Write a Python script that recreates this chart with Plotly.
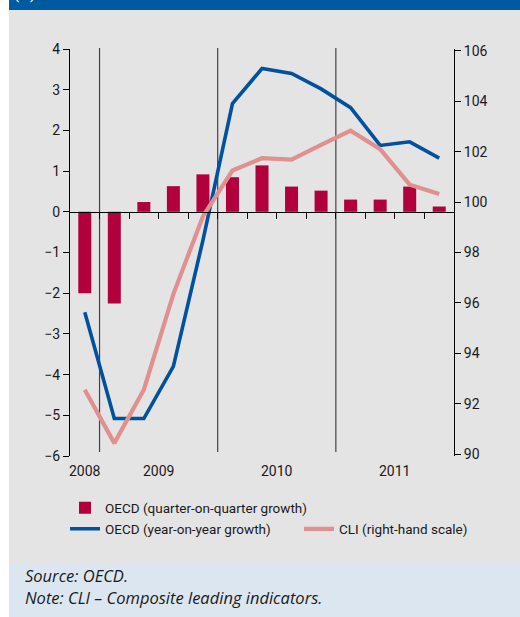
import plotly.graph_objects as go

# quarterly data, 2008Q4 - 2011Q4
quarters = ["2008Q4", "2009Q1", "2009Q2", "2009Q3", "2009Q4",
            "2010Q1", "2010Q2", "2010Q3", "2010Q4",
            "2011Q1", "2011Q2", "2011Q3", "2011Q4"]
qoq_growth = [-2.0, -2.25, 0.24, 0.63, 0.92, 0.85, 1.14, 0.62, 0.52, 0.30, 0.30, 0.62, 0.13]
yoy_growth = [-2.47, -5.08, -5.08, -3.80, -0.70, 2.66, 3.52, 3.40, 3.02, 2.56, 1.63, 1.72, 1.32]
cli = [92.56, 90.44, 92.56, 96.35, 99.43, 101.25, 101.74, 101.68, 102.27, 102.83, 102.10, 100.69, 100.32]

left_ticks = [-6, -5, -4, -3, -2, -1, 0, 1, 2, 3, 4]
right_ticks = [90, 92, 94, 96, 98, 100, 102, 104, 106]

W, H = 520, 617
ML, MR, MT, MB = 70, 66, 49, 161
PW, PH = W - ML - MR, H - MT - MB

def px(x):   # pixel -> paper x
    return (x - ML) / PW

def py(y):   # pixel -> paper y
    return (H - MB - y) / PH

FONT = "Roboto"
NOTE_FONT = "Open Sans"
BAR_C = "#b1003b"
BLUE_C = "#00519e"
PINK_C = "#e0908f"

xi = list(range(len(quarters)))
years = [q[:4] for q in quarters]
year_names = sorted(set(years))
year_centers = [sum(i for i in xi if years[i] == y) / years.count(y) for y in year_names]
year_bounds = [i - 0.5 for i in xi[1:] if years[i] != years[i - 1]]
quarter_bounds = [i + 0.5 for i in xi[:-1]]

fig = go.Figure()
fig.add_trace(go.Bar(x=xi, y=qoq_growth, name="OECD (quarter-on-quarter growth)",
                     marker=dict(color=BAR_C, line=dict(width=0)), width=0.44,
                     hovertext=quarters, legend="legend"))
fig.add_trace(go.Scatter(x=xi, y=yoy_growth, mode="lines", name="OECD (year-on-year growth)",
                         line=dict(color=BLUE_C, width=3.6), hovertext=quarters, legend="legend2"))
fig.add_trace(go.Scatter(x=xi, y=cli, mode="lines", name="CLI (right-hand scale)", yaxis="y2",
                         line=dict(color=PINK_C, width=4.2), hovertext=quarters, legend="legend3"))

shapes = [
    dict(type="rect", xref="paper", yref="paper", x0=px(9), x1=px(W + 5), y0=py(-5), y1=py(10),
         fillcolor="#005aa0", line=dict(width=0), layer="below"),
    dict(type="rect", xref="paper", yref="paper", x0=px(9), x1=px(W + 5), y0=py(563), y1=py(10),
         fillcolor="#e4e4e4", line=dict(width=0), layer="below"),
    dict(type="rect", xref="paper", yref="paper", x0=px(9), x1=px(W + 5), y0=py(H + 5), y1=py(563),
         fillcolor="#dce6f0", line=dict(width=0), layer="below"),
]
for b in year_bounds:
    shapes.append(dict(type="line", xref="x", yref="paper", x0=b, x1=b, y0=py(452), y1=py(48),
                       line=dict(color="#444444", width=1.2), layer="below"))

annotations = [
    dict(text="(%)", xref="paper", yref="paper", x=px(12), y=py(5), xanchor="left", yanchor="bottom",
         showarrow=False, font=dict(family=FONT, size=15, color="white")),
    dict(text="<i>Source: OECD.</i>", xref="paper", yref="paper", x=px(23), y=py(575),
         xanchor="left", yanchor="middle", showarrow=False,
         font=dict(family=NOTE_FONT, size=16.5, color="#1a1a1a")),
    dict(text="<i>Note: CLI – Composite leading indicators.</i>", xref="paper", yref="paper",
         x=px(23), y=py(597), xanchor="left", yanchor="middle", showarrow=False,
         font=dict(family=NOTE_FONT, size=16.5, color="#1a1a1a")),
]
for name, c in zip(year_names, year_centers):
    annotations.append(dict(text=name, xref="x", yref="paper", x=c, y=py(470.5),
                            xanchor="center", yanchor="middle", showarrow=False,
                            font=dict(family=FONT, size=14, color="#1a1a1a")))

leg = dict(xanchor="left", yanchor="middle", bgcolor="rgba(0,0,0,0)",
           font=dict(size=13.5), itemclick=False, itemdoubleclick=False)

fig.update_layout(
    width=W, height=H,
    margin=dict(l=ML, r=MR, t=MT, b=MB),
    paper_bgcolor="white",
    plot_bgcolor="rgba(0,0,0,0)",
    font=dict(family=FONT, size=14, color="#1a1a1a"),
    shapes=shapes,
    annotations=annotations,
    xaxis=dict(range=[-0.5, len(xi) - 0.5], anchor="free", position=0.6,
               showline=True, linecolor="black", linewidth=1,
               ticks="outside", ticklen=6, tickcolor="black", tickwidth=1,
               tickvals=quarter_bounds, showticklabels=False,
               showgrid=False, zeroline=False),
    yaxis=dict(range=[-6, 4], tickvals=left_ticks, ticks="outside", ticklen=6,
               tickcolor="black", showline=True, linecolor="black", linewidth=1,
               showgrid=False, zeroline=False, tickfont=dict(size=14)),
    yaxis2=dict(range=[89.93, 106.07], overlaying="y", side="right", tickvals=right_ticks,
                ticks="outside", ticklen=6, tickcolor="black", showline=True,
                linecolor="black", linewidth=1, showgrid=False, zeroline=False,
                tickfont=dict(size=14)),
    legend=dict(leg, x=px(65), y=py(508)),
    legend2=dict(leg, x=px(65), y=py(529)),
    legend3=dict(leg, x=px(299), y=py(529)),
    showlegend=True,
)

fig.write_html("out.html", config={"displayModeBar": False},
               post_script="document.body.style.margin='0';")
